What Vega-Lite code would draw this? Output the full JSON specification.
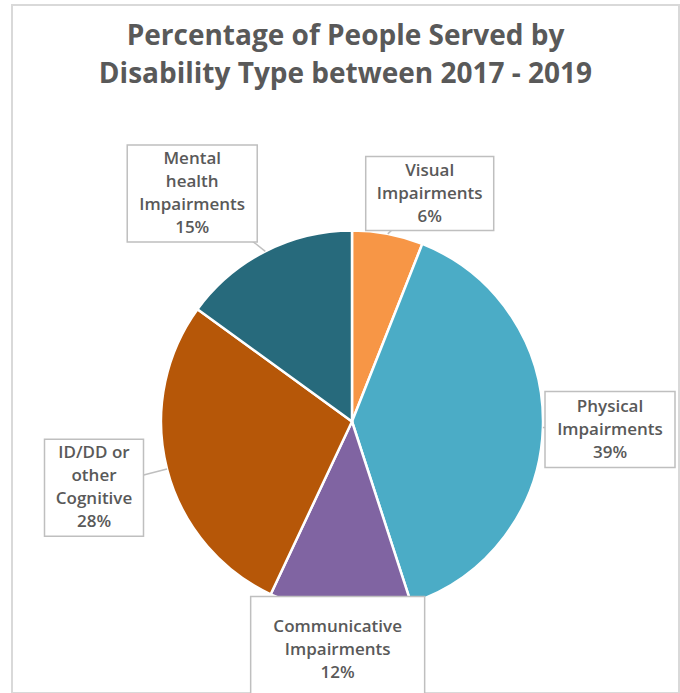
{
  "$schema": "https://vega.github.io/schema/vega-lite/v6.json",
  "autosize": "none",
  "width": 667,
  "height": 688,
  "padding": {"left": 12, "top": 5, "right": 1, "bottom": 0},
  "background": "white",
  "config": {
    "view": {"stroke": "#D9D9D9", "strokeWidth": 2},
    "font": "Open Sans"
  },
  "title": {
    "text": ["Percentage of People Served by", "Disability Type between 2017 - 2019"],
    "font": "Open Sans",
    "fontSize": 28,
    "fontWeight": "bold",
    "color": "#595959",
    "lineHeight": 38,
    "anchor": "middle",
    "frame": "group",
    "baseline": "bottom",
    "offset": -112
  },
  "data": {
    "values": [
      {"category": "Visual Impairments", "value": 6},
      {"category": "Physical Impairments", "value": 39},
      {"category": "Communicative Impairments", "value": 12},
      {"category": "ID/DD\u00a0or other Cognitive", "value": 28},
      {"category": "Mental health Impairments", "value": 15}
    ]
  },
  "transform": [
    {"window": [{"op": "row_number", "as": "rk"}, {"op": "sum", "field": "value", "as": "cum"}]},
    {"joinaggregate": [{"op": "sum", "field": "value", "as": "total"}]},
    {"calculate": "2 * PI * (datum.cum - datum.value / 2) / datum.total", "as": "ang"},
    {"calculate": "191 * sin(datum.ang)", "as": "ex"},
    {"calculate": "191 * cos(datum.ang)", "as": "ey"},
    {"calculate": "datum.ang + (cos(datum.ang) > 0.85 ? 0.14 * (sin(datum.ang) >= 0 ? 1 : -1) : 0)", "as": "la"},
    {"calculate": "sin(datum.la)", "as": "sx"},
    {"calculate": "cos(datum.la)", "as": "cy"},
    {"calculate": "min(258 / max(abs(datum.sx), 0.0001), 228 / max(abs(datum.cy), 0.0001))", "as": "t"},
    {"calculate": "datum.t * datum.sx", "as": "lx"},
    {"calculate": "datum.t * datum.cy", "as": "ly"},
    {"calculate": "datum.category + ' ' + datum.value + '%'", "as": "lbl"},
    {"calculate": "datum.ly + (length(split(datum.lbl, ' ')) - 1) * 11.5", "as": "ty"}
  ],
  "layer": [
    {
      "mark": {"type": "arc", "radius": 191, "stroke": "white", "strokeWidth": 2.5},
      "encoding": {
        "x": {"datum": 0, "type": "quantitative", "scale": {"domain": [-340, 327], "nice": false, "zero": false}, "axis": null},
        "y": {"datum": 0, "type": "quantitative", "scale": {"domain": [-271.5, 416.5], "nice": false, "zero": false}, "axis": null},
        "theta": {"field": "value", "type": "quantitative", "stack": true},
        "order": {"field": "rk", "type": "quantitative"},
        "color": {
          "field": "category",
          "type": "nominal",
          "scale": {
            "domain": ["Visual Impairments", "Physical Impairments", "Communicative Impairments", "ID/DD\u00a0or other Cognitive", "Mental health Impairments"],
            "range": ["#F79646", "#4BACC6", "#8064A2", "#B65708", "#276A7C"]
          },
          "legend": null
        }
      }
    },
    {
      "mark": {"type": "rule", "stroke": "#BFBFBF", "strokeWidth": 1.5},
      "encoding": {
        "x": {"field": "ex", "type": "quantitative"},
        "y": {"field": "ey", "type": "quantitative"},
        "x2": {"field": "lx"},
        "y2": {"field": "ly"}
      }
    },
    {
      "mark": {"type": "point", "filled": true, "fill": "white", "stroke": "#BFBFBF", "strokeWidth": 1.5, "opacity": 1, "size": 40000},
      "encoding": {
        "x": {"field": "lx", "type": "quantitative"},
        "y": {"field": "ly", "type": "quantitative"},
        "shape": {
          "field": "category",
          "type": "nominal",
          "scale": {
            "domain": ["Visual Impairments", "Physical Impairments", "Communicative Impairments", "ID/DD\u00a0or other Cognitive", "Mental health Impairments"],
            "range": [
              "M-0.64,-0.37H0.64V0.37H-0.64Z",
              "M-0.65,-0.38H0.65V0.38H-0.65Z",
              "M-0.87,-0.53H0.87V0.53H-0.87Z",
              "M-0.495,-0.485H0.495V0.485H-0.495Z",
              "M-0.65,-0.485H0.65V0.485H-0.65Z"
            ]
          },
          "legend": null
        }
      }
    },
    {
      "mark": {"type": "text", "font": "Open Sans", "fontSize": 17, "fontWeight": 600, "color": "#595959", "lineBreak": " ", "lineHeight": 23, "align": "center", "baseline": "middle"},
      "encoding": {
        "x": {"field": "lx", "type": "quantitative"},
        "y": {"field": "ty", "type": "quantitative"},
        "text": {"field": "lbl"}
      }
    }
  ]
}
